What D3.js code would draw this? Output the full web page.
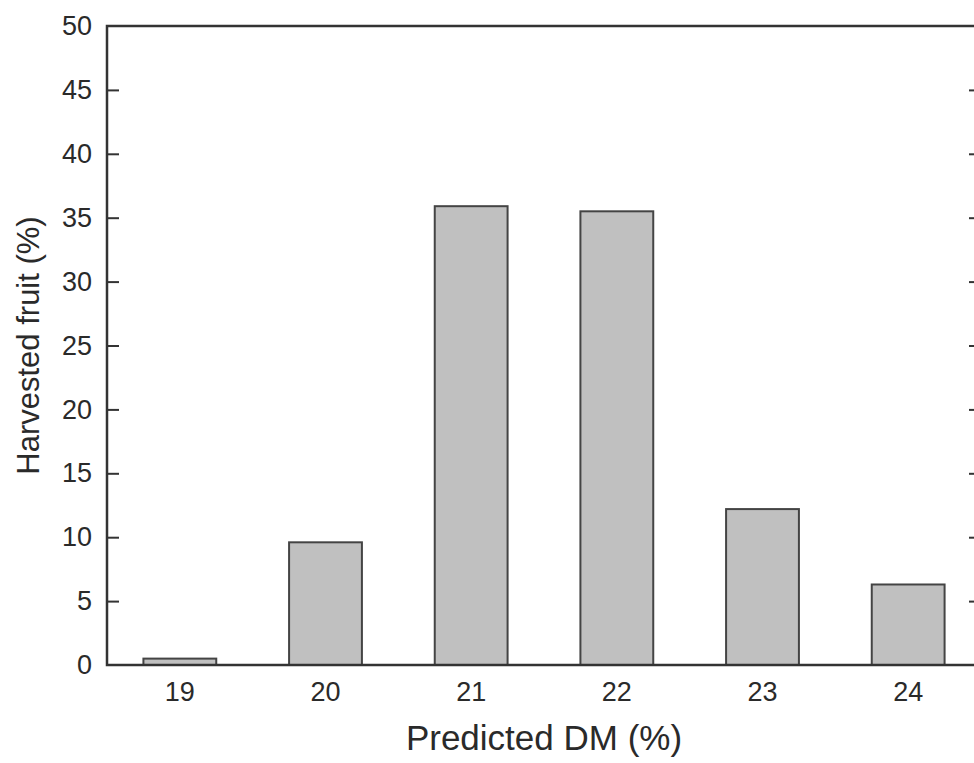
<!DOCTYPE html>
<html>
<head>
<meta charset="utf-8">
<script src="https://cdn.jsdelivr.net/npm/d3@7"></script>
<style>
  body { margin: 0; background: #fff; }
  svg { display: block; font-family: "Liberation Sans", Arial, sans-serif; }
</style>
</head>
<body>
<div id="chart"></div>
<script>
// values
const categories = ["19", "20", "21", "22", "23", "24"];
const harvested = [0.5, 9.6, 35.9, 35.5, 12.2, 6.3];
const yTicks = [0, 5, 10, 15, 20, 25, 30, 35, 40, 45, 50];

const width = 974, height = 763;
const margin = { top: 26, right: -7, bottom: 98, left: 107 };
const axisColor = "#333";
const font = "'Liberation Sans', Arial, sans-serif";

const svg = d3.select("#chart").append("svg")
    .attr("width", width)
    .attr("height", height);

const x = d3.scaleBand()
    .domain(categories)
    .range([margin.left, width - margin.right])
    .paddingInner(0.5)
    .paddingOuter(0.25);

const y = d3.scaleLinear()
    .domain([0, 50])
    .range([height - margin.bottom, margin.top]);

// bars
svg.append("g")
    .selectAll("rect")
    .data(harvested)
    .join("rect")
    .attr("x", (d, i) => x(categories[i]))
    .attr("y", d => y(d))
    .attr("width", x.bandwidth())
    .attr("height", d => y(0) - y(d))
    .attr("fill", "#c0c0c0")
    .attr("stroke", "#444")
    .attr("stroke-width", 2);

// left axis, ticks pointing inward
const left = svg.append("g")
    .attr("transform", `translate(${margin.left},0)`)
    .call(d3.axisLeft(y).tickValues(yTicks).tickSizeInner(-12).tickSizeOuter(0).tickPadding(15));
left.select(".domain").remove();
left.selectAll("line").attr("stroke", axisColor).attr("stroke-width", 2)
    .filter(d => d === 0 || d === 50).remove();
left.selectAll("text").attr("font-size", 27).attr("fill", "#2a2a2a")
    .attr("font-family", font);

// right axis, ticks only
const right = svg.append("g")
    .attr("transform", `translate(${width - margin.right},0)`)
    .call(d3.axisRight(y).tickValues(yTicks).tickSizeInner(-12).tickSizeOuter(0).tickFormat(""));
right.select(".domain").remove();
right.selectAll("line").attr("stroke", axisColor).attr("stroke-width", 2)
    .filter(d => d === 0 || d === 50).remove();

// bottom axis labels
const bottom = svg.append("g")
    .attr("transform", `translate(0,${y(0)})`)
    .call(d3.axisBottom(x).tickSize(0).tickPadding(17));
bottom.select(".domain").remove();
bottom.selectAll("text").attr("font-size", 27).attr("fill", "#2a2a2a")
    .attr("font-family", font);

// frame
svg.append("rect")
    .attr("x", margin.left)
    .attr("y", margin.top)
    .attr("width", width - margin.right - margin.left)
    .attr("height", y(0) - margin.top)
    .attr("fill", "none")
    .attr("stroke", axisColor)
    .attr("stroke-width", 2.5);

// axis titles
svg.append("text")
    .attr("x", (margin.left + width - margin.right) / 2)
    .attr("y", 750)
    .attr("text-anchor", "middle")
    .attr("font-size", 35)
    .attr("fill", "#2a2a2a")
    .text("Predicted DM (%)");

svg.append("text")
    .attr("transform", `translate(39,${(margin.top + y(0)) / 2}) rotate(-90)`)
    .attr("text-anchor", "middle")
    .attr("font-size", 31)
    .attr("fill", "#2a2a2a")
    .text("Harvested fruit (%)");
</script>
</body>
</html>
